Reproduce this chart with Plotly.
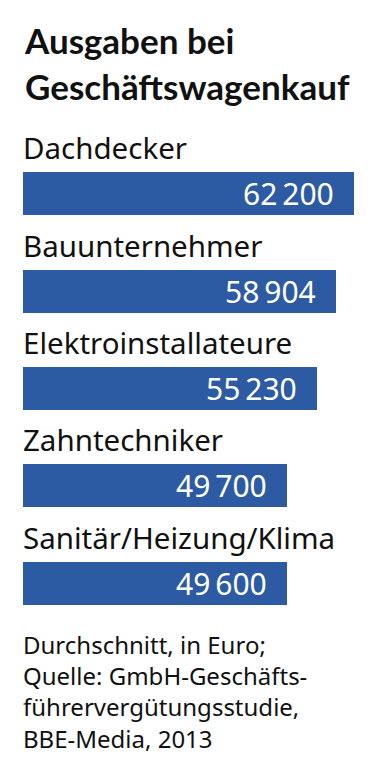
import plotly.graph_objects as go

categories = ["Dachdecker", "Bauunternehmer", "Elektroinstallateure", "Zahntechniker", "Sanitär/Heizung/Klima"]
values = [62200, 58904, 55230, 49700, 49600]
title_text = "Ausgaben bei<br>Geschäftswagenkauf"
footer_text = "Durchschnitt, in Euro;<br>Quelle: GmbH-Geschäfts-<br>führervergütungsstudie,<br>BBE-Media, 2013"

BLUE = "#2d5ba3"
FONT = "Noto Sans"
TITLE_FONT = "Lato"

def fmt(v):
    s = f"{v:,}".replace(",", "\u2009")
    return s

fig = go.Figure()
fig.add_trace(go.Bar(
    x=values, y=categories, orientation="h",
    marker=dict(color=BLUE, line=dict(width=0)),
    width=0.441, hoverinfo="skip",
))

ann = []
for c, v in zip(categories, values):
    ann.append(dict(x=0, y=c, xref="x", yref="y", text=c, showarrow=False,
                    xanchor="left", yanchor="middle", yshift=46, xshift=-2,
                    font=dict(family=FONT, size=29.5, color="#111111")))
    ann.append(dict(x=v, y=c, xref="x", yref="y", text=fmt(v), showarrow=False,
                    xanchor="right", yanchor="middle", xshift=-18, yshift=0,
                    font=dict(family=FONT, size=30, color="#ffffff")))

ann.append(dict(x=0, y=1, xref="paper", yref="paper", text=title_text, showarrow=False,
                xanchor="left", yanchor="middle", yshift=82.25, xshift=-1, align="left",
                font=dict(family=TITLE_FONT, size=35, color="#111111", weight="bold")))
ann.append(dict(x=0, y=0, xref="paper", yref="paper", text=footer_text, showarrow=False,
                xanchor="left", yanchor="middle", yshift=-59.75, xshift=-2, align="left",
                font=dict(family=FONT, size=24, color="#111111")))

fig.update_layout(
    width=378, height=773,
    margin=dict(l=23, r=24, t=144.75, b=140.75),
    paper_bgcolor="white", plot_bgcolor="white",
    showlegend=False,
    annotations=ann,
    xaxis=dict(range=[0, 62200], visible=False, fixedrange=True),
    yaxis=dict(range=[4.5, -0.5], visible=False, fixedrange=True,
               categoryorder="array", categoryarray=categories),
    bargap=0,
)

fig.write_html("out.html", config={"displayModeBar": False})
